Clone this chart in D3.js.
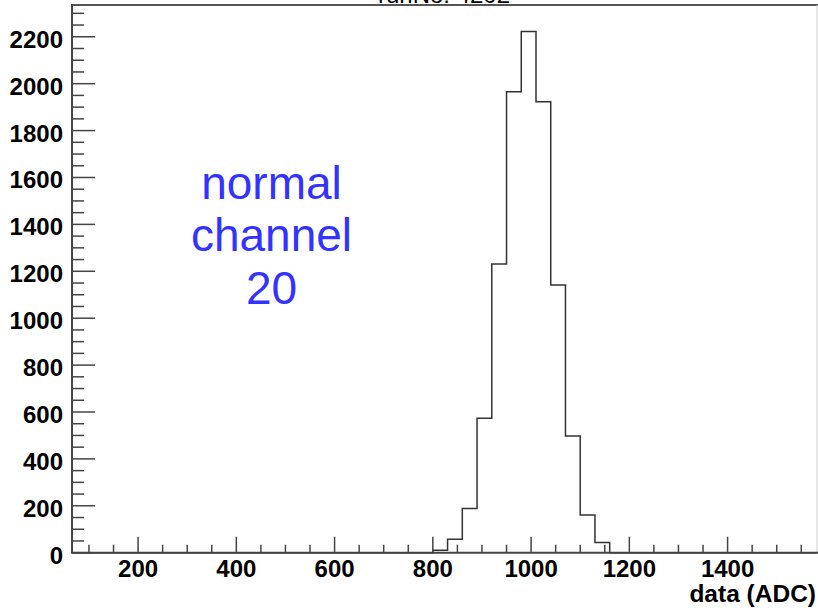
<!DOCTYPE html>
<html>
<head>
<meta charset="utf-8">
<script src="https://cdn.jsdelivr.net/npm/d3@7"></script>
<style>
  body { margin: 0; background: #fff; }
  svg { display: block; font-family: "Liberation Sans", Arial, Helvetica, sans-serif; }
</style>
</head>
<body>
<div id="chart"></div>
<script>
// Histogram data (ADC), bin width 30
const binLow = [800, 830, 860, 890, 920, 950, 980, 1010, 1040, 1070, 1100, 1130];
const binCounts = [10, 57, 189, 573, 1231, 1966, 2222, 1923, 1141, 498, 161, 44];
const binWidth = 30;
const xMajorTicks = [200, 400, 600, 800, 1000, 1200, 1400];
const yMajorTicks = [0, 200, 400, 600, 800, 1000, 1200, 1400, 1600, 1800, 2000, 2200];
const titleText = "runNo: 4202";
const xTitle = "data (ADC)";
const noteLines = ["normal", "channel", "20"];

const W = 818, H = 610;
const padL = 72, padR = 817, padT = 5, padB = 552.7;

const svg = d3.select("#chart").append("svg")
  .attr("width", W)
  .attr("height", H);

const x = d3.scaleLinear().domain([65.5, 1582]).range([padL, padR]);
const y = d3.scaleLinear().domain([0, 2335.5]).range([padB, padT]);

// Frame (top + right)
svg.append("line")
  .attr("x1", padL).attr("x2", W).attr("y1", padT).attr("y2", padT)
  .attr("stroke", "#555").attr("stroke-width", 2);
svg.append("line")
  .attr("x1", padR).attr("x2", padR).attr("y1", padT).attr("y2", padB)
  .attr("stroke", "#ccc").attr("stroke-width", 1);

// Title (cut off at top edge, as in the original)
svg.append("text")
  .attr("x", 444).attr("y", 3)
  .attr("text-anchor", "middle")
  .attr("font-size", 24)
  .attr("fill", "#000")
  .text(titleText);

// Histogram outline (step, no inner bin edges)
const pts = [[x.domain()[0], 0], [binLow[0], 0]];
binLow.forEach((lo, i) => {
  pts.push([lo, binCounts[i]]);
  pts.push([lo + binWidth, binCounts[i]]);
});
pts.push([binLow[binLow.length - 1] + binWidth, 0]);
pts.push([x.domain()[1], 0]);

svg.append("path")
  .datum(pts)
  .attr("fill", "none")
  .attr("stroke", "#333")
  .attr("stroke-width", 1.5)
  .attr("d", d3.line().x(d => x(d[0])).y(d => y(d[1])));

// X axis
const gx = svg.append("g").attr("stroke", "#444").attr("stroke-width", 1.5);
gx.append("line")
  .attr("x1", padL).attr("x2", W).attr("y1", padB).attr("y2", padB)
  .attr("stroke-width", 2);
const xMinor = d3.range(100, 1581, 50).filter(v => v % 200 !== 0);
gx.selectAll(".xmin").data(xMinor).join("line")
  .attr("x1", d => x(d)).attr("x2", d => x(d))
  .attr("y1", padB).attr("y2", padB - 8);
gx.selectAll(".xmaj").data(xMajorTicks).join("line")
  .attr("x1", d => x(d)).attr("x2", d => x(d))
  .attr("y1", padB).attr("y2", padB - 16);

svg.append("g").selectAll("text").data(xMajorTicks).join("text")
  .attr("x", d => x(d)).attr("y", 576.5)
  .attr("text-anchor", "middle")
  .attr("font-size", 24).attr("font-weight", "bold")
  .text(d => d);

svg.append("text")
  .attr("x", 816).attr("y", 601.5)
  .attr("text-anchor", "end")
  .attr("font-size", 24.5).attr("font-weight", "bold")
  .text(xTitle);

// Y axis
const gy = svg.append("g").attr("stroke", "#444").attr("stroke-width", 1.5);
gy.append("line")
  .attr("x1", padL).attr("x2", padL).attr("y1", padT - 1).attr("y2", padB + 1)
  .attr("stroke-width", 2);
const yMinor = d3.range(50, 2335, 50).filter(v => v % 200 !== 0);
gy.selectAll(".ymin").data(yMinor).join("line")
  .attr("x1", padL).attr("x2", padL + 12)
  .attr("y1", d => y(d)).attr("y2", d => y(d));
gy.selectAll(".ymaj").data(yMajorTicks).join("line")
  .attr("x1", padL).attr("x2", padL + 23)
  .attr("y1", d => y(d)).attr("y2", d => y(d));

svg.append("g").selectAll("text").data(yMajorTicks).join("text")
  .attr("x", 63).attr("y", d => y(d) + 11)
  .attr("text-anchor", "end")
  .attr("font-size", 24).attr("font-weight", "bold")
  .text(d => d);

// Annotation
svg.append("g").selectAll("text").data(noteLines).join("text")
  .attr("x", 271.5)
  .attr("y", (d, i) => 198.5 + i * 52.5)
  .attr("text-anchor", "middle")
  .attr("font-size", 46)
  .attr("fill", "#3333ff")
  .text(d => d);
</script>
</body>
</html>
